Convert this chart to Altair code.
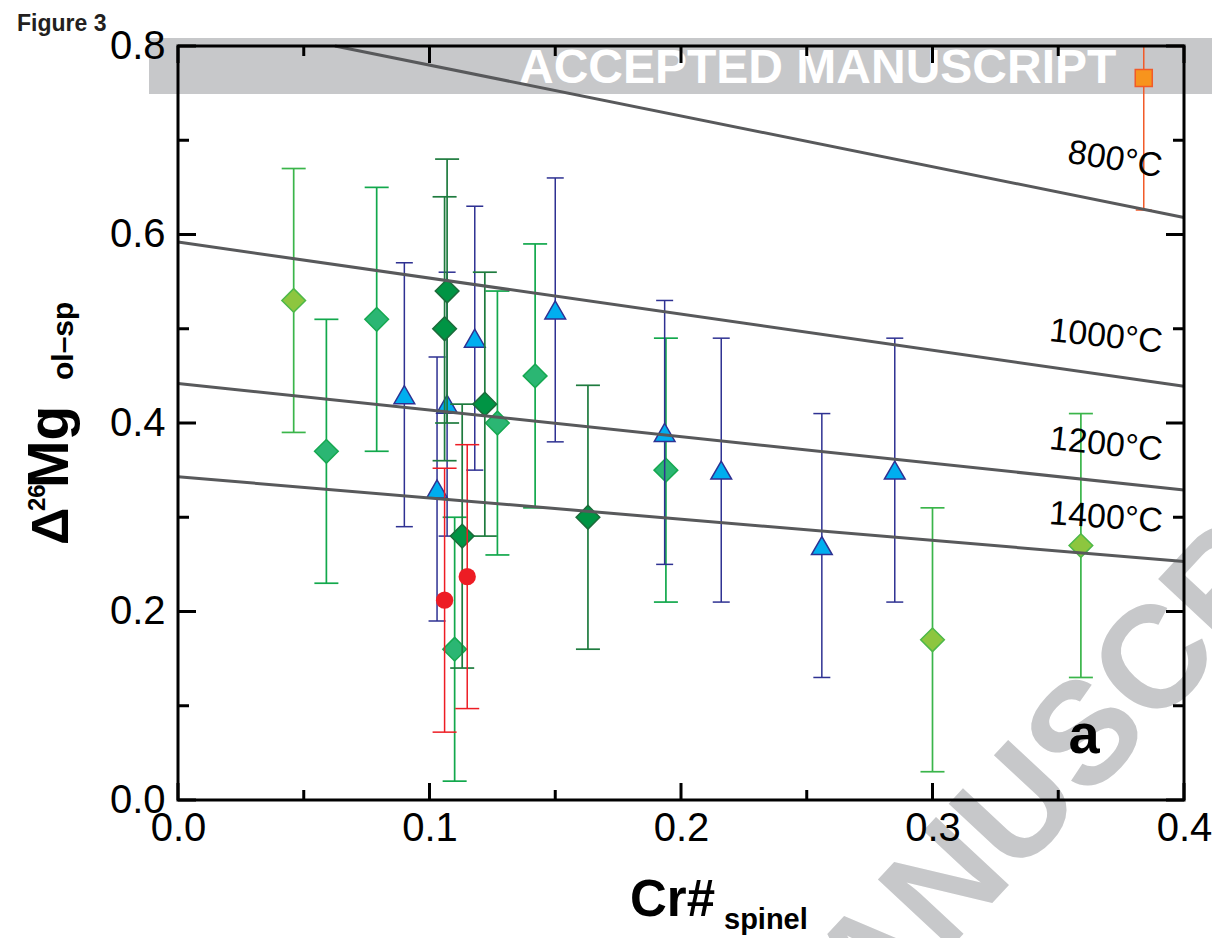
import altair as alt
import pandas as pd

# ---------------- data ----------------
# light-green diamonds
lg_x = [0.046, 0.300, 0.359]
lg_y = [0.53, 0.17, 0.27]
lg_e = [0.14, 0.14, 0.14]
# medium-green diamonds
mg_x = [0.059, 0.079, 0.110, 0.127, 0.142, 0.194]
mg_y = [0.37, 0.51, 0.16, 0.40, 0.45, 0.35]
mg_e = [0.14, 0.14, 0.14, 0.14, 0.14, 0.14]
# dark-green diamonds
dg_x = [0.107, 0.106, 0.122, 0.113, 0.163]
dg_y = [0.54, 0.50, 0.42, 0.28, 0.30]
dg_e = [0.14, 0.14, 0.14, 0.14, 0.14]
# blue triangles
bl_x = [0.090, 0.103, 0.107, 0.118, 0.150, 0.1935, 0.216, 0.256, 0.285]
bl_y = [0.43, 0.33, 0.42, 0.49, 0.52, 0.39, 0.35, 0.27, 0.35]
bl_e = [0.14, 0.14, 0.14, 0.14, 0.14, 0.14, 0.14, 0.14, 0.14]
# red circles
rd_x = [0.106, 0.115]
rd_y = [0.212, 0.237]
rd_e = [0.14, 0.14]
# orange square
or_x = [0.384]
or_y = [0.766]
or_e = [0.14]

# isotherms
iso_label = ["800°C", "1000°C", "1200°C", "1400°C"]
iso_x0 = [0.0624, 0.0, 0.0, 0.0]
iso_y0 = [0.800, 0.592, 0.442, 0.343]
iso_x1 = [0.4, 0.4, 0.4, 0.4]
iso_y1 = [0.618, 0.439, 0.329, 0.253]

x_major = [0.0, 0.1, 0.2, 0.3, 0.4]
x_minor = [0.05, 0.15, 0.25, 0.35]
y_major = [0.0, 0.2, 0.4, 0.6, 0.8]
y_minor = [0.1, 0.3, 0.5, 0.7]

# ---------------- layout ----------------
W, H = 1006, 754
FONT = "Liberation Sans"
xs = alt.Scale(domain=[0, 0.4], nice=False, zero=False)
ys = alt.Scale(domain=[0, 0.8], nice=False, zero=False)
one = alt.Data(values=[{}])

xaxis = alt.Axis(values=x_major, format=".1f", labelFont=FONT, labelFontSize=40, labelColor="black",
                 ticks=False, domain=False, grid=False, title=None, labelPadding=8,
                 labelFlush=False, zindex=1)
yaxis = alt.Axis(values=y_major, format=".1f", labelFont=FONT, labelFontSize=40, labelColor="black",
                 ticks=False, domain=False, grid=False, title=None, labelPadding=13,
                 labelFlush=False, zindex=1)


def XQ(f):
    return alt.X(f, type="quantitative", scale=xs, axis=xaxis)


def YQ(f):
    return alt.Y(f, type="quantitative", scale=ys, axis=yaxis)


def group_layers(x, y, e, shape, fill, stroke, size, bar_color, cap, sw, swm=1.5):
    df = pd.DataFrame({"x": x, "y": y, "e": e})
    base = alt.Chart(df).transform_calculate(lo="datum.y - datum.e", hi="datum.y + datum.e")
    bar = base.mark_rule(color=bar_color, strokeWidth=sw, clip=True).encode(
        x=XQ("x"), y=YQ("lo"), y2="hi:Q")
    c1 = base.mark_tick(orient="horizontal", color=bar_color, size=cap, thickness=sw,
                        clip=True, opacity=1).encode(x=XQ("x"), y=YQ("lo"))
    c2 = base.mark_tick(orient="horizontal", color=bar_color, size=cap, thickness=sw,
                        clip=True, opacity=1).encode(x=XQ("x"), y=YQ("hi"))
    pt = base.mark_point(shape=shape, filled=True, color=fill, stroke=stroke, strokeWidth=swm,
                         size=size, opacity=1, fillOpacity=1).encode(x=XQ("x"), y=YQ("y"))
    return [bar, c1, c2, pt]


def txt(s, x, y, size, weight="normal", angle=0, align="left", baseline="alphabetic", color="black"):
    return alt.Chart(one).mark_text(text=s, font=FONT, fontSize=size, fontWeight=weight,
                                    angle=angle, align=align, baseline=baseline,
                                    color=color).encode(x=alt.value(x), y=alt.value(y))


layers = []
# watermark banner
layers.append(alt.Chart(one).mark_rect(color="#C7C8CA").encode(
    x=alt.value(-29), x2=alt.value(1034), y=alt.value(-8), y2=alt.value(48)))
layers.append(txt("ACCEPTED MANUSCRIPT", 341, 37, 48, "bold", color="white"))
# diagonal watermark
layers.append(txt("MANUSCRIPT", 910, 690, 145, "bold", angle=313, align="center",
                  baseline="middle", color="#C7C8CA"))

# data groups
layers += group_layers(lg_x, lg_y, lg_e, "diamond", "#8DC63F", "#4DB848", 560, "#3AB54A", 24, 1.7)
layers += group_layers(mg_x, mg_y, mg_e, "diamond", "#2BB673", "#15A850", 560, "#12A84C", 24, 1.7)
layers += group_layers(bl_x, bl_y, bl_e, "triangle-up", "#00AEEF", "#2E3192", 430, "#2E3192", 17, 1.5)
layers += group_layers(dg_x, dg_y, dg_e, "diamond", "#009444", "#1C6B3A", 560, "#1E7B3E", 24, 1.7)
layers += group_layers(rd_x, rd_y, rd_e, "circle", "#ED1C24", "#ED1C24", 300, "#ED1C24", 24, 1.5, 0)
layers += group_layers(or_x, or_y, or_e, "square", "#F7941D", "#F15A29", 290, "#F15A29", 16, 1.5)

# isotherms
iso_df = pd.DataFrame({"T": iso_label, "x0": iso_x0, "y0": iso_y0, "x1": iso_x1, "y1": iso_y1})
layers.append(alt.Chart(iso_df).mark_rule(color="#58595B", strokeWidth=3).encode(
    x=XQ("x0"), y=YQ("y0"), x2="x1:Q", y2="y1:Q"))

# isotherm labels
layers.append(txt("800°C", 937, 114, 34, angle=9, align="center", baseline="middle"))
layers.append(txt("1000°C", 928, 291, 34, angle=6, align="center", baseline="middle"))
layers.append(txt("1200°C", 928, 399, 34, angle=6, align="center", baseline="middle"))
layers.append(txt("1400°C", 928, 472, 34, angle=4, align="center", baseline="middle"))

# frame
layers.append(alt.Chart(one).mark_rect(filled=False, stroke="black", strokeWidth=3).encode(
    x=alt.value(0), x2=alt.value(W), y=alt.value(0), y2=alt.value(H)))


# inward ticks
def xticks(vals, L):
    df = pd.DataFrame({"v": vals})
    return [alt.Chart(df).mark_rule(color="black", strokeWidth=3).encode(
                x=XQ("v"), y=alt.value(H), y2=alt.value(H - L)),
            alt.Chart(df).mark_rule(color="black", strokeWidth=3).encode(
                x=XQ("v"), y=alt.value(0), y2=alt.value(L))]


def yticks(vals, L):
    df = pd.DataFrame({"v": vals})
    return [alt.Chart(df).mark_rule(color="black", strokeWidth=3).encode(
                y=YQ("v"), x=alt.value(0), x2=alt.value(L)),
            alt.Chart(df).mark_rule(color="black", strokeWidth=3).encode(
                y=YQ("v"), x=alt.value(W - L), x2=alt.value(W))]


layers += xticks(x_major, 17) + xticks(x_minor, 10) + yticks(y_major, 18) + yticks(y_minor, 11)

# panel letter, figure label
layers.append(txt("a", 906, 707, 56, "bold", align="center"))
layers.append(txt("Figure 3", -161, -15, 23, "bold", color="#231F20"))

# axis titles
layers.append(txt("Δ", -110, 499, 52, "bold", angle=270))
layers.append(txt("26", -133, 465, 24, "bold", angle=270))
layers.append(txt("Mg", -110, 442, 57, "bold", angle=270))
layers.append(txt("ol–sp", -105, 334, 30, "bold", angle=270))
layers.append(txt("Cr#", 452, 870, 51, "bold"))
layers.append(txt("spinel", 546, 883, 29, "bold"))

chart = alt.layer(*layers).properties(
    width=W, height=H,
    padding={"left": 178, "top": 46, "right": 28, "bottom": 138},
    autosize=alt.AutoSizeParams(type="none"),
    background="white",
).configure_view(stroke=None)

chart.save("out.html", embed_options={"renderer": "svg", "actions": False})
